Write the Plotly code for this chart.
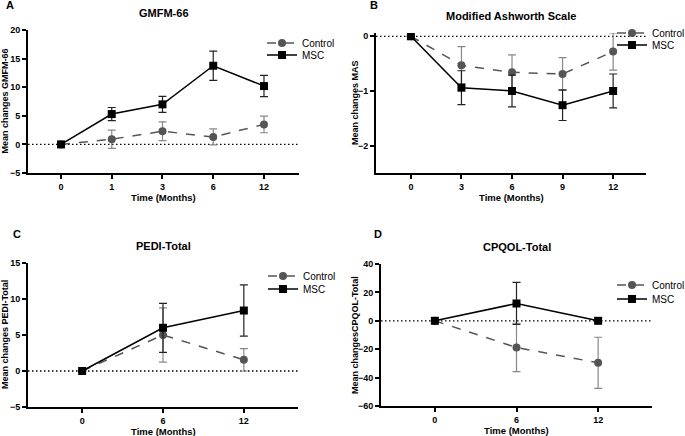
import plotly.graph_objects as go

# ---------------- data ----------------
a_ticks = ["0", "1", "3", "6", "12"]
a_ctrl = [0, 0.9, 2.3, 1.3, 3.5]
a_ctrl_err = [0, 1.6, 1.65, 1.4, 1.46]
a_msc = [0, 5.3, 7.0, 13.75, 10.2]
a_msc_err = [0, 1.15, 1.4, 2.55, 1.85]

b_ticks = ["0", "3", "6", "9", "12"]
b_ctrl = [0, -0.53, -0.66, -0.69, -0.28]
b_ctrl_err = [0, 0.34, 0.32, 0.3, 0.34]
b_msc = [0, -0.94, -1.0, -1.26, -1.0]
b_msc_err = [0, 0.31, 0.29, 0.28, 0.31]

c_ticks = ["0", "6", "12"]
c_ctrl = [0, 5.0, 1.55]
c_ctrl_err = [0, 3.77, 1.55]
c_msc = [0, 6.0, 8.4]
c_msc_err = [0, 3.4, 3.55]

d_ticks = ["0", "6", "12"]
d_ctrl = [0, -18.8, -29.6]
d_ctrl_err = [0, 17.0, 18.0]
d_msc = [0, 12.2, 0]
d_msc_err = [0, 14.8, 0]

W, H = 685, 436
def px(x):
    return x / W
def py(y):
    return 1 - y / H

panels = [
    dict(letter="A", title="GMFM-66", ytitle="Mean changes GMFM-66", ticks=a_ticks,
         ctrl=a_ctrl, ctrl_err=a_ctrl_err, msc=a_msc, msc_err=a_msc_err,
         yrange=[-5, 20], ytickvals=[-5, 0, 5, 10, 15, 20],
         xdom=[28, 299], ydom=[173, 30], xrange=[-0.65, 4.69],
         leg_x=302, leg_y=(43, 55), ytitle_x=5, letter_xy=(4, 5)),
    dict(letter="B", title="Modified Ashworth Scale", ytitle="Mean changes MAS", ticks=b_ticks,
         ctrl=b_ctrl, ctrl_err=b_ctrl_err, msc=b_msc, msc_err=b_msc_err,
         yrange=[-2.5, 0.06], ytickvals=[-2, -1, 0],
         xdom=[376, 646], ydom=[173, 33], xrange=[-0.69, 4.65],
         leg_x=652, leg_y=(33, 45), ytitle_x=355, letter_xy=(368, 5)),
    dict(letter="C", title="PEDI-Total", ytitle="Mean changes PEDI-Total", ticks=c_ticks,
         ctrl=c_ctrl, ctrl_err=c_ctrl_err, msc=c_msc, msc_err=c_msc_err,
         yrange=[-5, 15], ytickvals=[-5, 0, 5, 10, 15],
         xdom=[28, 298], ydom=[407, 263], xrange=[-0.67, 2.67],
         leg_x=303, leg_y=(276, 289), ytitle_x=5, letter_xy=(11, 234)),
    dict(letter="D", title="CPQOL-Total", ytitle="Mean changesCPQOL-Total", ticks=d_ticks,
         ctrl=d_ctrl, ctrl_err=d_ctrl_err, msc=d_msc, msc_err=d_msc_err,
         yrange=[-60, 40], ytickvals=[-60, -40, -20, 0, 20, 40],
         xdom=[381, 652], ydom=[406, 264], xrange=[-0.66, 2.66],
         leg_x=652, leg_y=(285, 299), ytitle_x=355, letter_xy=(372, 234)),
]

FONT = "Liberation Sans, Arial, sans-serif"
fig = go.Figure()
layout = dict(
    width=W, height=H, margin=dict(l=0, r=0, t=0, b=0, autoexpand=False),
    paper_bgcolor="white", plot_bgcolor="white",
    font=dict(family=FONT, color="black", size=10),
    showlegend=True,
)
annotations = []
shapes = []
LEG_TEXT_OFFSET = 40

for i, p in enumerate(panels):
    n = i + 1
    xa = "x" if n == 1 else f"x{n}"
    ya = "y" if n == 1 else f"y{n}"
    leg_c = "legend" if n == 1 else f"legend{2*n-1}"
    leg_m = f"legend{2*n}"
    xs = list(range(len(p["ticks"])))
    fig.add_trace(go.Scatter(
        x=xs, y=p["ctrl"], mode="lines+markers", name="Control",
        line=dict(color="#555555", width=1.5, dash="dash"),
        marker=dict(symbol="circle", size=8, color="#555555"),
        error_y=dict(type="data", array=p["ctrl_err"], color="#888888", thickness=1.2, width=4),
        xaxis=xa, yaxis=ya, legend=leg_c))
    fig.add_trace(go.Scatter(
        x=xs, y=p["msc"], mode="lines+markers", name="MSC",
        line=dict(color="black", width=1.5),
        marker=dict(symbol="square", size=8, color="black"),
        error_y=dict(type="data", array=p["msc_err"], color="#222222", thickness=1.2, width=4),
        xaxis=xa, yaxis=ya, legend=leg_m))
    axkey = "xaxis" if n == 1 else f"xaxis{n}"
    aykey = "yaxis" if n == 1 else f"yaxis{n}"
    layout[axkey] = dict(
        domain=[px(p["xdom"][0]), px(p["xdom"][1])], anchor=ya, range=p["xrange"],
        tickvals=xs, ticktext=p["ticks"], showgrid=False, zeroline=False,
        showline=True, linecolor="black", linewidth=2, ticks="outside",
        ticklen=4, tickwidth=1.5, tickcolor="black",
        tickfont=dict(family=FONT, size=9, weight="bold"),
    )
    layout[aykey] = dict(
        domain=[py(p["ydom"][0]), py(p["ydom"][1])], anchor=xa, range=p["yrange"],
        tickvals=p["ytickvals"], showgrid=False, zeroline=False,
        showline=True, linecolor="black", linewidth=2, ticks="outside",
        ticklen=4, tickwidth=1.5, tickcolor="black",
        tickfont=dict(family=FONT, size=9, weight="bold"),
    )
    for leg, ly in ((leg_c, p["leg_y"][0]), (leg_m, p["leg_y"][1])):
        layout[leg] = dict(
            x=px(p["leg_x"] - LEG_TEXT_OFFSET), y=py(ly), xanchor="left", yanchor="middle",
            bgcolor="rgba(0,0,0,0)", font=dict(family=FONT, size=10),
            tracegroupgap=0, itemwidth=30, borderwidth=0,
        )
    shapes.append(dict(type="line", xref=f"{xa} domain", yref=ya, x0=0, x1=1, y0=0, y1=0,
                       line=dict(color="black", width=1.3, dash="1.5px,2.5px"), layer="below"))
    xc = px((p["xdom"][0] + p["xdom"][1]) / 2)
    yc = py((p["ydom"][0] + p["ydom"][1]) / 2)
    annotations.append(dict(text=f"<b>{p['title']}</b>", x=xc, y=py(p["ydom"][1] - 17),
                            font=dict(family=FONT, size=11), xanchor="center", yanchor="middle"))
    annotations.append(dict(text="<b>Time (Months)</b>", x=xc, y=py(p["ydom"][0] + 24),
                            font=dict(family=FONT, size=9.5), xanchor="center", yanchor="middle"))
    annotations.append(dict(text=f"<b>{p['ytitle']}</b>", x=px(p["ytitle_x"]), y=yc, textangle=-90,
                            font=dict(family=FONT, size=9), xanchor="center", yanchor="middle"))
    annotations.append(dict(text=f"<b>{p['letter']}</b>", x=px(p["letter_xy"][0]), y=py(p["letter_xy"][1]),
                            font=dict(family=FONT, size=11), xanchor="left", yanchor="middle"))

for a in annotations:
    a.update(xref="paper", yref="paper", showarrow=False)

layout["annotations"] = annotations
layout["shapes"] = shapes
fig.update_layout(**layout)
fig.write_html("out.html", config={"displayModeBar": False},
               post_script="document.body.style.margin='0';document.body.style.overflow='hidden';")
